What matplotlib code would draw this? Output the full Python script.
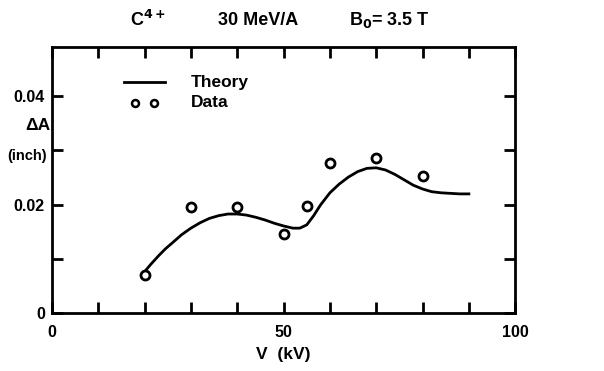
import matplotlib.pyplot as plt

plt.rcParams['font.family'] = ['Liberation Sans', 'DejaVu Sans']
plt.rcParams['font.weight'] = 'bold'

# measured deflection vs. voltage
v_data = [20, 30, 40, 50, 55, 60, 70, 80]
dA_data = [0.0070, 0.0195, 0.0195, 0.0146, 0.0197, 0.0276, 0.0286, 0.0253]

# calculated curve
v_theory = [20.0, 21.5, 23.0, 24.5, 26.0, 28.0, 30.0, 32.0, 34.0, 36.0, 38.0, 40.0,
            42.0, 44.0, 46.0, 48.0, 50.0, 52.0, 53.5, 55.0, 56.5, 58.0, 60.0,
            62.0, 64.0, 66.0, 68.0, 70.0, 72.0, 74.0, 76.0, 78.0, 80.0, 82.0,
            84.0, 86.0, 88.0, 90.0]
dA_theory = [0.0077, 0.0092, 0.0106, 0.0119, 0.0130, 0.0145, 0.0157, 0.0167, 0.0175,
             0.0180, 0.0183, 0.0183, 0.0181, 0.0177, 0.0172, 0.0166, 0.0161, 0.0157,
             0.0157, 0.0163, 0.0180, 0.0200, 0.0222, 0.0238, 0.0251, 0.0261, 0.0267,
             0.0268, 0.0264, 0.0256, 0.0246, 0.0236, 0.0229, 0.0224, 0.0222, 0.0221,
             0.0220, 0.0220]

x_ticks = list(range(0, 101, 10))
y_ticks = [0, 0.01, 0.02, 0.03, 0.04]

fig = plt.figure(figsize=(6.04, 3.71), dpi=100)
ax = fig.add_axes([0.086, 0.155, 0.767, 0.718])

ax.plot(v_theory, dA_theory, color='black', lw=2)
ax.plot(v_data, dA_data, 'o', mfc='white', mec='black', ms=6.5, mew=2)

ax.set_xlim(0, 100)
ax.set_ylim(0, 0.049)
ax.set_xticks(x_ticks)
ax.set_yticks(y_ticks)
ax.set_xticklabels(['0', '', '', '', '', '50', '', '', '', '', '100'])
ax.set_yticklabels(['0', '', '0.02', '', '0.04'])
ax.tick_params(direction='in', length=8, width=2, top=True, right=True,
               labelsize=11.5, pad=5)
ax.tick_params(axis='x', pad=8)
for s in ax.spines.values():
    s.set_linewidth(2)

ax.set_xlabel('V  (kV)', fontsize=12.5, fontweight='bold', labelpad=5)
fig.text(0.062, 0.663, 'ΔA', fontsize=12.5, fontweight='bold', ha='center', va='center')
fig.text(0.045, 0.58, '(inch)', fontsize=10.5, fontweight='bold', ha='center', va='center')

# header labels
fig.text(0.245, 0.945, 'C$^{4+}$', fontsize=13, fontweight='bold', ha='center', va='center')
fig.text(0.428, 0.945, '30 MeV/A', fontsize=13, fontweight='bold', ha='center', va='center')
fig.text(0.645, 0.945, 'B$_0$= 3.5 T', fontsize=13, fontweight='bold', ha='center', va='center')

# legend drawn by hand
ax.plot([15.5, 24.5], [0.0425, 0.0425], color='black', lw=2)
ax.plot([18, 22], [0.0388, 0.0388], 'o', mfc='white', mec='black', ms=5, mew=1.8)
ax.text(30, 0.0425, 'Theory', fontsize=12.5, fontweight='bold', va='center')
ax.text(30, 0.0388, 'Data', fontsize=12.5, fontweight='bold', va='center')

fig.savefig('out.png', dpi=100)
